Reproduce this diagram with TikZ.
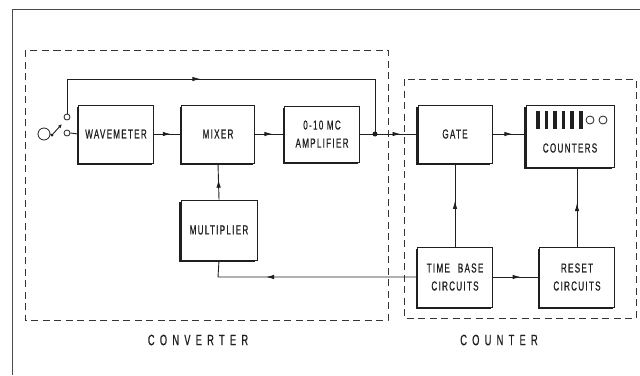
\documentclass[tikz,border=0pt]{standalone}
\usepackage{fontspec}
\newfontfamily\lab{Liberation Sans}[FakeStretch=0.62,LetterSpace=10,FakeBold=0.6]
\newfontfamily\biglab{Liberation Sans}[FakeStretch=0.62,LetterSpace=35,FakeBold=0.6]
\usetikzlibrary{shadows,decorations.markings,arrows.meta}
\definecolor{ink}{gray}{0.12}
\tikzset{
  blk/.style={draw=ink, line width=0.9pt, fill=white, minimum width=75pt, minimum height=58pt,
    inner sep=2pt, align=center, font=\lab\fontsize{13}{18}\selectfont, text=ink,
    drop shadow={shadow xshift=-1.8pt, shadow yshift=-1.8pt, opacity=1, fill=ink}},
  wire/.style={draw=ink, line width=0.9pt},
  midarrow/.style={postaction={decorate}, decoration={markings,
    mark=at position #1 with {\arrow{Latex[length=8pt,width=4.5pt]}}}},
  grp/.style={draw=ink!90, line width=0.95pt, dash pattern=on 7pt off 4.5pt},
  grplab/.style={font=\biglab\fontsize{15}{18}\selectfont, text=ink},
  contact/.style={circle, draw=ink, line width=0.8pt, fill=white, inner sep=0pt, minimum size=#1},
}
\begin{document}
\begin{tikzpicture}[x=1pt,y=-1pt]
\useasboundingbox (0,0) rectangle (640,375);
% outer frame
\draw[ink!80, line width=1pt] (12,375) -- (12,9) -- (640,9);
% group boxes
\draw[grp] (25,50) rectangle (388,320);
\draw[grp] (404,79) rectangle (636,318);
\node[grplab] (lconv) at (198,340) {CONVERTER};
\node[grplab] (lcnt) at (499,340) {COUNTER};
% blocks
\node[blk] (wm) at (116,134) {WAVEMETER};
\node[blk, minimum width=73pt] (mix) at (218,134) {MIXER};
\node[blk, minimum height=56pt] (amp) at (322,134) {0-10 MC\\AMPLIFIER};
\node[blk, minimum width=74pt] (gate) at (455,134) {GATE};
\node[blk, minimum width=88pt, minimum height=62pt] (ctr) at (570,136) {};
\node[font=\lab\fontsize{13}{15}\selectfont, text=ink] (ctrt) at (570,148) {COUNTERS};
\node[blk, minimum width=76pt, minimum height=60pt] (mult) at (219,230) {MULTIPLIER};
\node[blk, minimum height=60pt] (tb) at (455,277) {TIME\hspace{8pt}BASE\\CIRCUITS};
\node[blk, minimum height=60pt] (rst) at (577,277) {RESET\\CIRCUITS};
% counter display
\foreach \i in {0,...,5}{
  \fill[ink] (536+8.6*\i,111) rectangle (539.6+8.6*\i,129);
}
\node[contact=8pt] (d1) at (590,120) {};
\node[contact=8pt] (d2) at (603,120) {};
% switch
\node[contact=12pt] (inp) at (44,134) {};
\node[contact=6pt] (cl) at (67,133) {};
\node[contact=6pt] (cu) at (67,117) {};
\coordinate (piv) at (52,135);
\coordinate (arm) at (62,124);
\draw[wire] (inp.east) -- (piv);
\fill[ink] (piv) circle (1.5pt);
\draw[wire, -{Latex[length=4pt,width=3.5pt]}] (piv) -- (arm);
% junction
\coordinate (jn) at (375,134);
\coordinate (tl) at (67,79);
\coordinate (tr) at (375,79);
\coordinate (bl) at (218,277);
% connectors
\draw[wire] (cl.east) -- (wm.west);
\draw[wire, midarrow=168pt] (cu.north) -- (tl) -- (tr) -- (jn);
\fill[ink] (jn) circle (2.5pt);
\draw[wire, midarrow=0.62] (wm.east) -- (mix.west);
\draw[wire, midarrow=0.6] (mix.east) -- (amp.west);
\draw[wire] (amp.east) -- (jn);
\draw[wire, midarrow=0.6] (jn) -- (gate.west);
\draw[wire, midarrow=0.6] (gate.east) -- (ctr.west |- gate.east);
\draw[wire, midarrow=0.55] (mult.north) -- (mix.south);
\draw[wire, midarrow=0.55] (tb.north) -- (gate.south);
\draw[wire, midarrow=0.55] (rst.north) -- (rst.north |- ctr.south);
\draw[wire, midarrow=0.6] (tb.east) -- (rst.west);
\draw[wire, midarrow=151pt] (tb.west) -- (bl) -- (mult.south);
\end{tikzpicture}
\end{document}
